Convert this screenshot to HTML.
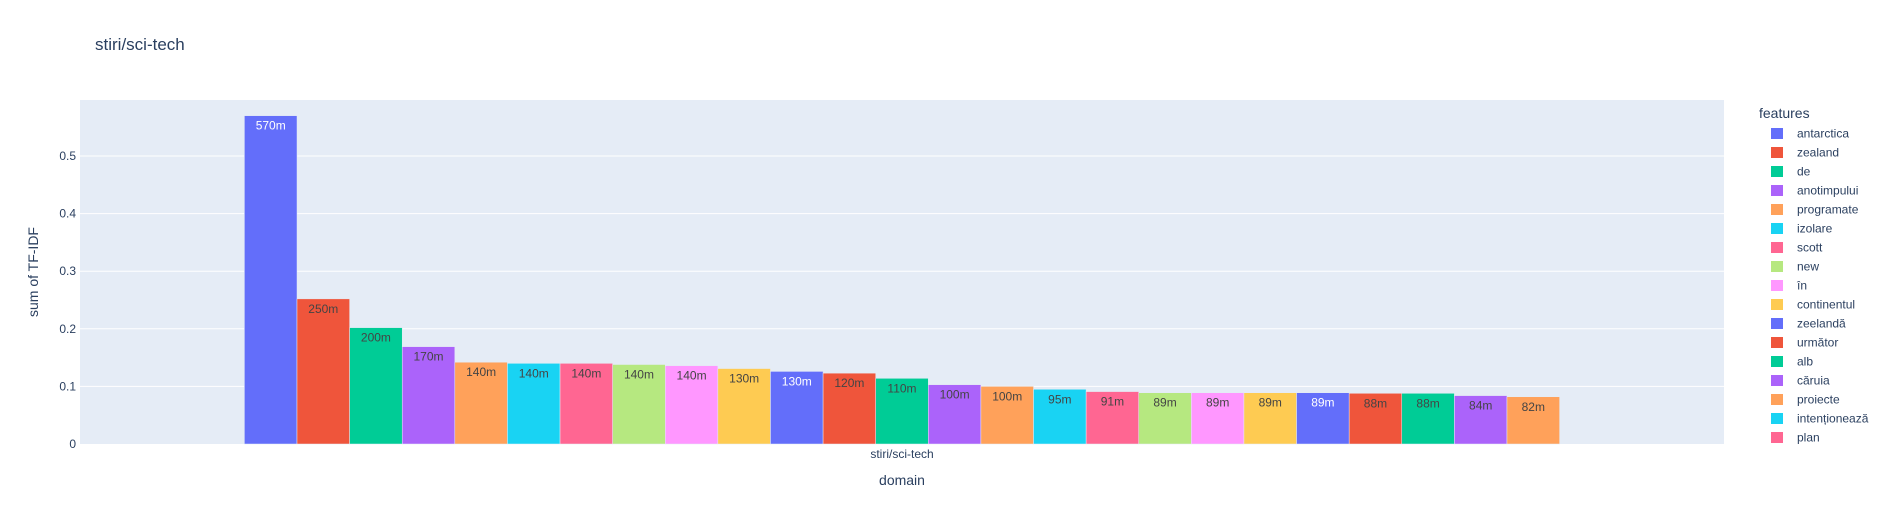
<!DOCTYPE html>
<html><head><meta charset="utf-8"><style>
body{margin:0;background:#fff;}
svg{display:block;font-family:"Liberation Sans",Arial,sans-serif;}
</style></head><body>
<svg id="chart" width="1896" height="525" xmlns="http://www.w3.org/2000/svg">
<rect x="0" y="0" width="1896" height="525" fill="#fff"/>
<text x="95" y="50" font-size="17" fill="#2a3f5f">stiri/sci-tech</text>
<rect x="80" y="100" width="1644" height="344" fill="#e5ecf6"/>
<g id="grid"></g>
<g id="bars"></g>
<g id="yticks"></g>
<text x="902" y="458" font-size="12" fill="#2a3f5f" text-anchor="middle">stiri/sci-tech</text>
<text x="902" y="485" font-size="14" fill="#2a3f5f" text-anchor="middle">domain</text>
<text transform="translate(38,272) rotate(-90)" font-size="14" fill="#2a3f5f" text-anchor="middle">sum of TF-IDF</text>
<text x="1759" y="118" font-size="14" fill="#2a3f5f">features</text>
<g id="legend"></g>
</svg>
<script>
const categories=["antarctica","zealand","de","anotimpului","programate","izolare","scott","new","în","continentul","zeelandă","următor","alb","căruia","proiecte","intenționează","plan","feature18","feature19","feature20","feature21","feature22","feature23","feature24","feature25"];
const values=[0.570,0.252,0.202,0.169,0.142,0.140,0.140,0.138,0.136,0.131,0.126,0.123,0.114,0.103,0.100,0.095,0.091,0.089,0.089,0.089,0.089,0.088,0.088,0.084,0.082];
const labels=["570m","250m","200m","170m","140m","140m","140m","140m","140m","130m","130m","120m","110m","100m","100m","95m","91m","89m","89m","89m","89m","88m","88m","84m","82m"];
const yTicks=[0,0.1,0.2,0.3,0.4,0.5];
const yTickLabels=["0","0.1","0.2","0.3","0.4","0.5"];
const legendShown=17;
const palette=["#636efa","#EF553B","#00cc96","#ab63fa","#FFA15A","#19d3f3","#FF6692","#B6E880","#FF97FF","#FECB52"];
const darkText=[true,false,false,false,false,false,false,false,false,false];
const NS="http://www.w3.org/2000/svg";
const X0=80,X1=1724,Y0=444,PX=576;
const y=v=>Y0-v*PX;
const groupW=(X1-X0)*0.8, bw=groupW/categories.length, gx=(X0+X1)/2-groupW/2;
const xb=i=>gx+i*bw;
function mk(t,a,p){const e=document.createElementNS(NS,t);for(const k in a)e.setAttribute(k,a[k]);p.appendChild(e);return e;}
const grid=document.getElementById('grid'),yt=document.getElementById('yticks');
yTicks.forEach((t,i)=>{
 if(t>0){const l=mk('line',{x1:X0,x2:X1,y1:y(t),y2:y(t),stroke:'#fff','stroke-width':1},grid);
 
 }
 const tx=mk('text',{x:X0-4,y:y(t)+4,'font-size':12,fill:'#2a3f5f','text-anchor':'end'},yt);
 tx.textContent=yTickLabels[i];
 
 
});
const bars=document.getElementById('bars');
values.forEach((v,i)=>{
 const c=palette[i%10];
 const r=mk('rect',{x:xb(i),y:y(v),width:bw,height:Y0-y(v),fill:c,stroke:'#E5ECF6','stroke-width':0.5},bars);
 
 
 const t=mk('text',{x:xb(i)+bw/2,y:y(v)+14,'font-size':12,'text-anchor':'middle',fill:darkText[i%10]?'#fff':'#444'},bars);
 t.textContent=labels[i];
 
 
});
const lg=document.getElementById('legend');
for(let i=0;i<legendShown;i++){
 const g=mk('g',{},lg);
 
 
 mk('rect',{x:1771,y:128+i*19,width:12,height:11,fill:palette[i%10]},g);
 const t=mk('text',{x:1797,y:137.5+i*19,'font-size':12,fill:'#2a3f5f'},g);
 t.textContent=categories[i];
}
</script>
</body></html>
